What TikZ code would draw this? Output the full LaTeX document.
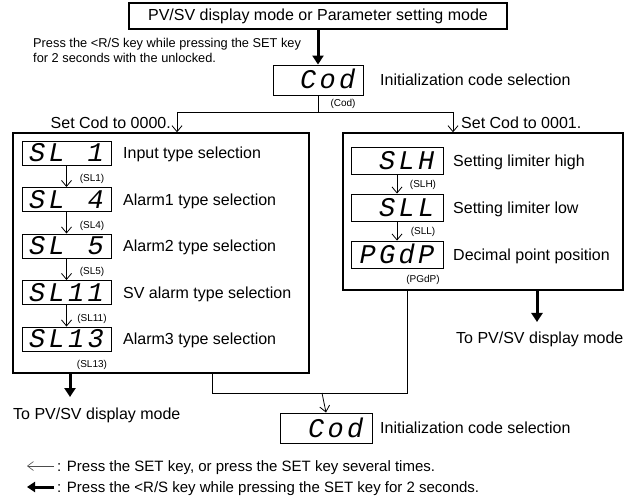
\documentclass[tikz,border=0pt]{standalone}
\usepackage{fontspec}
\setmainfont{Liberation Sans}
\newfontfamily\segfont{Liberation Mono}
\usetikzlibrary{arrows.meta}
\newcommand\segc[1]{\makebox[19.5pt][c]{#1}}
\begin{document}
\begin{tikzpicture}[x=1pt,y=-1pt,
  bigbox/.style={draw, line width=1.4pt, inner sep=0pt},
  disp/.style={draw, line width=0.9pt, minimum width=89pt, minimum height=24pt, inner sep=0pt,
    font=\segfont\itshape\fontsize{27}{27}\selectfont, text height=18pt, text depth=0pt},
  txt/.style={font=\fontsize{16}{19}\selectfont, inner sep=0pt, anchor=west, text height=11.5pt, text depth=0pt},
  smalltxt/.style={font=\fontsize{12.8}{15}\selectfont, inner sep=0pt, anchor=west, text height=9.2pt, text depth=0pt},
  legtxt/.style={font=\fontsize{15}{18}\selectfont, inner sep=0pt, anchor=west, text height=10.7pt, text depth=0pt},
  tag/.style={font=\fontsize{10}{12}\selectfont, inner sep=0pt, text height=7.2pt, text depth=0pt},
  thinarr/.style={line width=0.8pt, -{Straight Barb[length=6pt,width=10pt]}},
  thickarr/.style={line width=3pt, -{Triangle[length=9pt,width=11pt]}},
  conn/.style={line width=0.8pt}
]
\useasboundingbox (0,0) rectangle (627,497);

% top mode box
\node[bigbox, minimum width=378pt, minimum height=26pt, font=\fontsize{16}{19}\selectfont] (top) at (318,16) {PV/SV display mode or Parameter setting mode};
\node[smalltxt] (p1) at (33,43) {Press the <R/S key while pressing the SET key};
\node[smalltxt] (p2) at (33,58) {for 2 seconds with the unlocked.};

% initialization code
\node[disp, minimum width=90pt, minimum height=30pt] (cod) at (318,80) {\segc{}\segc{C}\segc{o}\segc{d}};
\node[txt] (codt) at (380,80) {Initialization code selection};
\node[tag] (codl) at (343,103) {(Cod)};
\draw[thickarr] (top.south -| cod.north) -- (cod.north);

% branches
\coordinate (j) at (318,112);
\coordinate (lt) at (177,112);
\coordinate (rt) at (453,112);
\node[bigbox, minimum width=296pt, minimum height=240pt] (lbox) at (161,253) {};
\node[bigbox, minimum width=280pt, minimum height=157pt] (rbox) at (483,211.5) {};
\draw[conn] (cod.south) -- (j);
\draw[conn] (lt) -- (rt);
\draw[thinarr] (lt) -- (lt |- lbox.north);
\draw[thinarr] (rt) -- (rt |- rbox.north);
\node[txt, anchor=east] (s0) at (171,123) {Set Cod to 0000.};
\node[txt] (s1) at (461,123) {Set Cod to 0001.};

% left group
\node[disp] (d1) at (66.5,153) {\segc{S}\segc{L}\segc{}\segc{1}};
\node[disp] (d2) at (66.5,199.5) {\segc{S}\segc{L}\segc{}\segc{4}};
\node[disp] (d3) at (66.5,246) {\segc{S}\segc{L}\segc{}\segc{5}};
\node[disp] (d4) at (66.5,292.5) {\segc{S}\segc{L}\segc{1}\segc{1}};
\node[disp] (d5) at (66.5,339) {\segc{S}\segc{L}\segc{1}\segc{3}};
\node[txt] at (123,153) {Input type selection};
\node[txt] at (123,199.5) {Alarm1 type selection};
\node[txt] at (123,246) {Alarm2 type selection};
\node[txt] at (123,292.5) {SV alarm type selection};
\node[txt] at (123,339) {Alarm3 type selection};
\node[tag] at (92,178) {(SL1)};
\node[tag] at (92,224.5) {(SL4)};
\node[tag] at (92,271) {(SL5)};
\node[tag] at (92,317.5) {(SL11)};
\node[tag] at (92,364) {(SL13)};
\draw[thinarr] (d1) -- (d2);
\draw[thinarr] (d2) -- (d3);
\draw[thinarr] (d3) -- (d4);
\draw[thinarr] (d4) -- (d5);

% right group
\node[disp, minimum width=92pt, minimum height=27pt] (r1) at (397,160.5) {\segc{}\segc{S}\segc{L}\segc{H}};
\node[disp, minimum width=92pt, minimum height=27pt] (r2) at (397,207.5) {\segc{}\segc{S}\segc{L}\segc{L}};
\node[disp, minimum width=92pt, minimum height=27pt] (r3) at (397,254.5) {\segc{P}\segc{G}\segc{d}\segc{P}};
\node[txt] at (453,160.5) {Setting limiter high};
\node[txt] at (453,207.5) {Setting limiter low};
\node[txt] at (453,254.5) {Decimal point position};
\node[tag] at (423,184) {(SLH)};
\node[tag] at (423,231) {(SLL)};
\node[tag] at (423,279) {(PGdP)};
\draw[thinarr] (r1) -- (r2);
\draw[thinarr] (r2) -- (r3);

% exits
\coordinate (lx) at (70,397);
\coordinate (rx) at (537,322);
\draw[thickarr] (lbox.south -| lx) -- (lx);
\draw[thickarr] (rbox.south -| rx) -- (rx);
\node[txt] at (13,414) {To PV/SV display mode};
\node[txt] at (456,338) {To PV/SV display mode};

% return to cod
\coordinate (bl) at (212,393);
\coordinate (br) at (407,393);
\coordinate (bm) at (322,393);
\node[disp, minimum width=92pt, minimum height=30pt] (cod2) at (326,428) {\segc{}\segc{C}\segc{o}\segc{d}};
\node[txt] at (380,428) {Initialization code selection};
\draw[conn] (lbox.south -| bl) -- (bl) -- (br) -- (rbox.south -| br);
\draw[thinarr] (bm) -- (cod2.north);

% legend
\coordinate (a1s) at (54,466);
\coordinate (a1e) at (27,466);
\coordinate (a2s) at (54,487);
\coordinate (a2e) at (27,487);
\draw[line width=0.6pt, draw=black!70, -{Straight Barb[length=6pt,width=9pt]}] (a1s) -- (a1e);
\draw[line width=3pt, -{Triangle[length=8pt,width=10pt]}] (a2s) -- (a2e);
\node[legtxt] at (57,466) {: Press the SET key, or press the SET key several times.};
\node[legtxt] at (57,487) {: Press the <R/S key while pressing the SET key for 2 seconds.};
\end{tikzpicture}
\end{document}
